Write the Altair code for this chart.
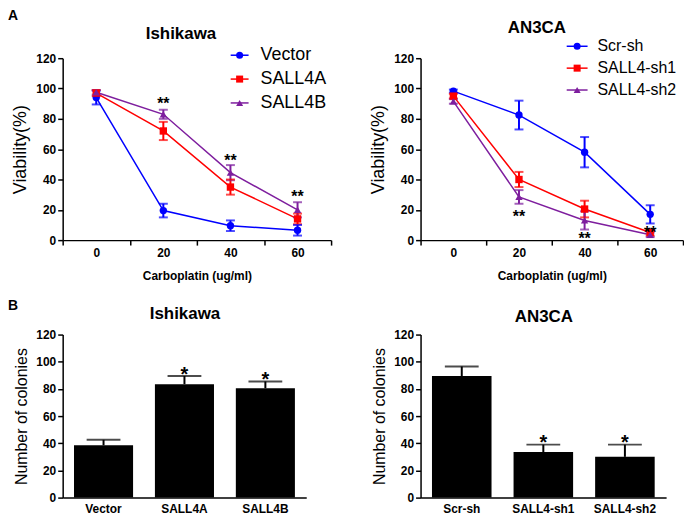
import altair as alt
import pandas as pd

FONT = "Liberation Sans"
BLUE, RED, PURPLE = "#0000FF", "#FF0000", "#7E1E9E"

# ---------------- data ----------------
doses = [0, 20, 40, 60]

ish_series = ["Vector", "SALL4A", "SALL4B"]
ish_vector = [94.0, 19.5, 9.5, 6.5]
ish_vector_err = [4.5, 4.5, 3.5, 3.5]
ish_sall4a = [97.0, 72.0, 35.0, 14.0]
ish_sall4a_err = [2.0, 6.0, 5.0, 3.5]
ish_sall4b = [97.5, 83.0, 44.5, 20.0]
ish_sall4b_err = [1.5, 3.0, 5.0, 5.0]
ish_star_doses = [20, 40, 60]
ish_star_y = [92.5, 55.0, 31.0]

an3_series = ["Scr-sh", "SALL4-sh1", "SALL4-sh2"]
an3_scr = [98.3, 82.5, 58.0, 17.0]
an3_scr_err = [1.0, 9.5, 10.0, 6.0]
an3_sh1 = [95.0, 40.0, 20.5, 5.0]
an3_sh1_err = [1.5, 5.0, 5.5, 2.0]
an3_sh2 = [91.5, 28.5, 13.0, 3.5]
an3_sh2_err = [1.5, 4.5, 6.0, 1.5]
an3_star_doses = [20, 40, 60]
an3_star_y = [18.0, 3.5, 7.5]

ish_groups = ["Vector", "SALL4A", "SALL4B"]
ish_colonies = [38.5, 83.5, 80.5]
ish_colonies_err = [4.0, 6.0, 5.0]
ish_col_star_groups = ["SALL4A", "SALL4B"]
ish_col_star_y = [94.0, 90.0]

an3_groups = ["Scr-sh", "SALL4-sh1", "SALL4-sh2"]
an3_colonies = [89.5, 33.5, 30.0]
an3_colonies_err = [7.0, 5.5, 9.0]
an3_col_star_groups = ["SALL4-sh1", "SALL4-sh2"]
an3_col_star_y = [44.0, 44.0]

series_colors = [BLUE, RED, PURPLE]
series_shapes = ["circle", "square", "triangle-up"]
y_ticks = [0, 20, 40, 60, 80, 100, 120]


def text_layer(txt, x, y, size, weight="bold", align="center", baseline="middle"):
    return alt.Chart(pd.DataFrame({"t": [txt]})).mark_text(
        font=FONT, fontSize=size, fontWeight=weight, align=align,
        baseline=baseline, color="black"
    ).encode(x=alt.value(x), y=alt.value(y), text="t:N")


def y_axis(title, tpad, tsize):
    return alt.Axis(values=y_ticks, title=title, grid=False,
                    domainColor="black", domainWidth=1.5,
                    tickColor="black", tickWidth=1.5, tickSize=5,
                    labelFont=FONT, labelFontSize=12, labelFontWeight="bold",
                    labelColor="black", labelPadding=2, labelFlush=False,
                    titleFont=FONT, titleFontSize=tsize, titleFontWeight="normal",
                    titleColor="black", titlePadding=tpad)


def line_panel(series, means, errs, star_doses, star_y, title, title_xy,
               leg_rows, leg_x, leg_size, width, height, label=None):
    rows = []
    for s, m, e in zip(series, means, errs):
        for d, v, ee in zip(doses, m, e):
            rows.append({"series": s, "dose": d, "mean": v, "lo": v - ee, "hi": v + ee})
    df = pd.DataFrame(rows)
    sdf = pd.DataFrame({"dose": star_doses, "y": star_y, "s": ["**"] * len(star_doses)})

    color = alt.Color("series:N", scale=alt.Scale(domain=series, range=series_colors), legend=None)
    shape = alt.Shape("series:N", scale=alt.Scale(domain=series, range=series_shapes), legend=None)
    xax = alt.Axis(tickBand="extent", labelAngle=0, grid=False,
                   domainColor="black", domainWidth=1.5,
                   tickColor="black", tickWidth=1.5, tickSize=5,
                   labelFont=FONT, labelFontSize=12, labelFontWeight="bold",
                   labelColor="black", labelPadding=2,
                   titleFont=FONT, titleFontSize=12, titleFontWeight="bold",
                   titleColor="black", titlePadding=13)
    X = alt.X("dose:O", scale=alt.Scale(type="band", paddingInner=0, paddingOuter=0),
              axis=xax, bandPosition=0.5, title="Carboplatin (ug/ml)")
    yscale = alt.Scale(domain=[0, 120], nice=False)
    yax = y_axis("Viability(%)", 6, 18)

    def Y(f):
        return alt.Y(f"{f}:Q", scale=yscale, axis=yax, title="Viability(%)")

    base = alt.Chart(df)
    lines = base.mark_line(strokeWidth=1.5).encode(x=X, y=Y("mean"), color=color)
    bars = base.mark_rule(strokeWidth=2).encode(x=X, y=Y("lo"), y2="hi:Q", color=color)
    cap_lo = base.mark_tick(orient="horizontal", size=9, thickness=2).encode(x=X, y=Y("lo"), color=color)
    cap_hi = base.mark_tick(orient="horizontal", size=9, thickness=2).encode(x=X, y=Y("hi"), color=color)
    pts = base.mark_point(filled=True, size=55, opacity=1).encode(x=X, y=Y("mean"), color=color, shape=shape)
    stars = alt.Chart(sdf).mark_text(font=FONT, fontSize=16, fontWeight="bold",
                                     baseline="alphabetic", dy=9, color="black").encode(
        x=X, y=Y("y"), text="s:N")
    main = alt.layer(lines, bars, cap_lo, cap_hi, pts, stars)

    ldf = pd.DataFrame({"series": series})
    LY = alt.Y("series:N", sort=series,
               scale=alt.Scale(type="point", range=leg_rows, padding=0), axis=None)
    lb = alt.Chart(ldf)
    l_rule = lb.mark_rule(strokeWidth=1.5).encode(
        x=alt.value(leg_x[0]), x2=alt.value(leg_x[1]), y=LY, color=color)
    l_pt = lb.mark_point(filled=True, size=50, opacity=1).encode(
        x=alt.value((leg_x[0] + leg_x[1]) / 2), y=LY, color=color, shape=shape)
    l_txt = lb.mark_text(font=FONT, fontSize=leg_size, align="left", baseline="middle",
                         color="black").encode(x=alt.value(leg_x[2]), y=LY, text="series:N")
    extra = [l_rule, l_pt, l_txt, text_layer(title, title_xy[0], title_xy[1], 17)]
    if label:
        extra.append(text_layer(label, -55, -49, 14, align="left", baseline="top"))
    deco = alt.layer(*extra)
    return alt.layer(main, deco).resolve_scale(y="independent").properties(width=width, height=height)


def bar_panel(groups, vals, errs, star_groups, star_y, title, title_xy, width, height, label=None):
    df = pd.DataFrame({"group": groups, "value": vals,
                       "hi": [v + e for v, e in zip(vals, errs)]})
    sdf = pd.DataFrame({"group": star_groups, "y": star_y, "s": ["*"] * len(star_groups)})
    xax = alt.Axis(labelAngle=0, grid=False, ticks=False, tickSize=0,
                   domainColor="black", domainWidth=1.5,
                   labelFont=FONT, labelFontSize=12, labelFontWeight="bold",
                   labelColor="black", labelPadding=6, title=None)
    X = alt.X("group:N", sort=groups,
              scale=alt.Scale(type="band", paddingInner=0.27, paddingOuter=0.14),
              axis=xax, title=None)
    yscale = alt.Scale(domain=[0, 120], nice=False)
    yax = y_axis("Number of colonies", 6, 16)

    def Y(f):
        return alt.Y(f"{f}:Q", scale=yscale, axis=yax, title="Number of colonies")

    base = alt.Chart(df)
    bar = base.mark_bar(color="black").encode(x=X, y=Y("value"))
    err = base.mark_rule(strokeWidth=2, color="black").encode(x=X, y=Y("value"), y2="hi:Q")
    cap = base.mark_tick(orient="horizontal", size=34, thickness=2, color="black").encode(x=X, y=Y("hi"))
    stars = alt.Chart(sdf).mark_text(font=FONT, fontSize=20, fontWeight="bold",
                                     baseline="alphabetic", dy=11, color="black").encode(
        x=X, y=Y("y"), text="s:N")
    layers = [bar, err, cap, stars, text_layer(title, title_xy[0], title_xy[1], 17)]
    if label:
        layers.append(text_layer(label, -55, -36, 14, align="left", baseline="top"))
    return alt.layer(*layers).properties(width=width, height=height)


tl = line_panel(ish_series, [ish_vector, ish_sall4a, ish_sall4b],
                [ish_vector_err, ish_sall4a_err, ish_sall4b_err],
                ish_star_doses, ish_star_y, "Ishikawa", (119, -24),
                [-3, 45], (169, 187, 199), 18, 270, 183, label="A")
tr = line_panel(an3_series, [an3_scr, an3_sh1, an3_sh2],
                [an3_scr_err, an3_sh1_err, an3_sh2_err],
                an3_star_doses, an3_star_y, "AN3CA", (117, -30),
                [-12, 32], (147, 168, 178), 16, 264, 183)
bl = bar_panel(ish_groups, ish_colonies, ish_colonies_err,
               ish_col_star_groups, ish_col_star_y, "Ishikawa", (123, -21), 245, 164, label="B")
br = bar_panel(an3_groups, an3_colonies, an3_colonies_err,
               an3_col_star_groups, an3_col_star_y, "AN3CA", (124, -18), 247, 164)

chart = alt.concat(tl, tr, bl, br, columns=2,
                   spacing={"row": 95, "column": 90}, bounds="flush").properties(
    padding=0).configure_view(stroke=None)

chart.save("out.html", embed_options={"renderer": "svg", "actions": False})
